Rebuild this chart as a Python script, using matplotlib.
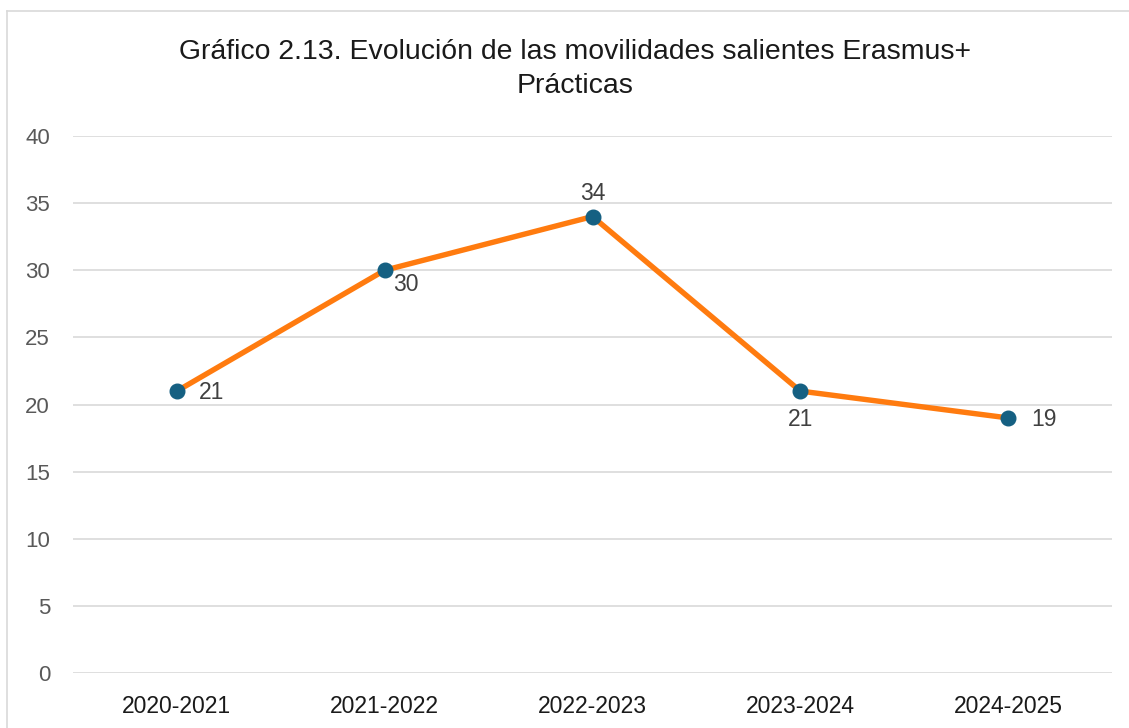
import matplotlib
matplotlib.use("Agg")
import matplotlib.pyplot as plt
from matplotlib.lines import Line2D

categories = ["2020-2021", "2021-2022", "2022-2023", "2023-2024", "2024-2025"]
values = [21, 30, 34, 21, 19]
yticks = [0, 5, 10, 15, 20, 25, 30, 35, 40]
title = "Gráfico 2.13. Evolución de las movilidades salientes Erasmus+\nPrácticas"

plt.rcParams['font.family'] = ['Liberation Sans', 'DejaVu Sans']

W, H = 1129, 728
fig = plt.figure(figsize=(W / 100, H / 100), dpi=100)
fig.patch.set_facecolor('white')

# outer chart border (top and left visible)
fig.add_artist(Line2D([7 / W, 7 / W], [1 - 11 / H, -0.1], transform=fig.transFigure,
                      color='#D9D9D9', lw=1.2))
fig.add_artist(Line2D([7 / W, 1.1], [1 - 11 / H, 1 - 11 / H], transform=fig.transFigure,
                      color='#D9D9D9', lw=1.2))

left, right = 73 / W, 1112 / W
bottom, top = 1 - 673 / H, 1 - 136 / H
ax = fig.add_axes([left, bottom, right - left, top - bottom])

x = list(range(len(categories)))
ax.plot(x, values, color='#FF7B0F', lw=3.9, solid_capstyle='round', zorder=3)
ax.plot(x, values, 'o', color='#156082', markersize=10.5, zorder=4)

ax.set_xlim(-0.5, len(categories) - 0.5)
ax.set_ylim(0, 40)
ax.set_yticks(yticks)
ax.set_xticks(x)
ax.set_xticklabels(categories, fontsize=16.5, color='#1a1a1a')
ax.set_yticklabels([str(v) for v in yticks], fontsize=16, color='#595959')
ax.tick_params(axis='both', length=0)
ax.tick_params(axis='y', pad=16.5)
ax.tick_params(axis='x', pad=15.5)
ax.grid(axis='y', color='#D9D9D9', lw=1.2)
ax.set_axisbelow(True)
for s in ax.spines.values():
    s.set_visible(False)

# data labels
offsets = [(16, -1, 'left', 'center'),
           (6, -10.5, 'left', 'center'),
           (0, 8, 'center', 'bottom'),
           (0, -12, 'center', 'top'),
           (17, -1, 'left', 'center')]
for xi, v, (dx, dy, ha, va) in zip(x, values, offsets):
    ax.annotate(str(v), (xi, v), xytext=(dx, dy), textcoords='offset points',
                ha=ha, va=va, fontsize=16.5, color='#404040')

fig.text(575 / W, 1 - 69 / H, title, ha='center', va='center', fontsize=20.4,
         color='#1a1a1a', linespacing=1.42)

fig.savefig('out.png', dpi=100, facecolor='white')
